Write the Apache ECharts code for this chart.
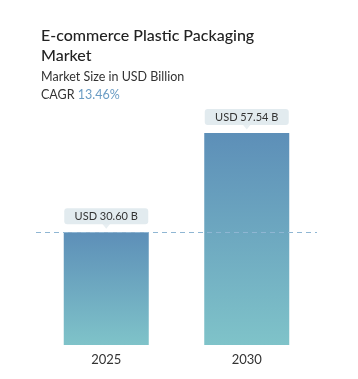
<!DOCTYPE html>
<html><head><meta charset="utf-8">
<script src="https://cdn.jsdelivr.net/npm/echarts@6/dist/echarts.min.js"></script>
<style>html,body{margin:0;padding:0;background:#fff}#c{width:358px;height:379px}</style>
</head><body><div id="c"></div>
<script>
const categories = ['2025', '2030'];
const values = [30.60, 57.54];
const valueLabels = ['USD 30.60 B', 'USD 57.54 B'];
const titleText = 'E-commerce Plastic Packaging\nMarket';
const subtitleText = 'Market Size in USD Billion';
const cagrText = '13.46%';

const chart = echarts.init(document.getElementById('c'));
const FONT = 'Lato';
chart.setOption({
  animation: false,
  title: [
    { text: titleText, left: 36, top: 21,
      textStyle: { fontFamily: FONT, fontSize: 16, fontWeight: 500, color: '#222', lineHeight: 20 } },
    { text: subtitleText + '\n{l|CAGR} {v|' + cagrText + '}', left: 36, top: 63,
      textStyle: { fontFamily: FONT, fontSize: 12.5, fontWeight: 400, color: '#333', lineHeight: 18,
        rich: { l: { fontFamily: FONT, fontSize: 12.5, color: '#333' }, v: { fontFamily: FONT, fontSize: 12.5, color: '#6a9cc4' } } } }
  ],
  grid: { left: 36, width: 281, bottom: 34, top: 124 },
  xAxis: { type: 'category', data: categories,
    axisLine: { show: false }, axisTick: { show: false },
    axisLabel: { fontFamily: FONT, fontSize: 13, color: '#333', margin: 8 } },
  yAxis: { type: 'value', min: 0, max: 60, show: false, splitLine: { show: false } },
  series: [{
    type: 'bar', data: values, barWidth: '60.5%',
    itemStyle: { color: new echarts.graphic.LinearGradient(0, 0, 0, 1, [
      { offset: 0, color: '#5d8fb8' }, { offset: 1, color: '#7fc3c9' }]) },
    label: { show: true, position: 'top', distance: 8,
      formatter: p => valueLabels[p.dataIndex],
      fontFamily: FONT, fontSize: 11, color: '#333',
      backgroundColor: '#e2ebef', borderRadius: 3, width: 76, align: 'center',
      padding: [3, 4, 2, 4] },
    markLine: { silent: true, symbol: 'none', label: { show: false },
      lineStyle: { type: [5, 4], color: '#8fb6d3', width: 1 },
      data: [{ yAxis: values[0] }] },
    z: 2
  }, {
    type: 'scatter', data: values, symbol: 'triangle', symbolRotate: 180,
    symbolSize: [8, 5], symbolOffset: [0, -6],
    itemStyle: { color: '#e2ebef' }, z: 3, silent: true
  }]
});
</script></body></html>
